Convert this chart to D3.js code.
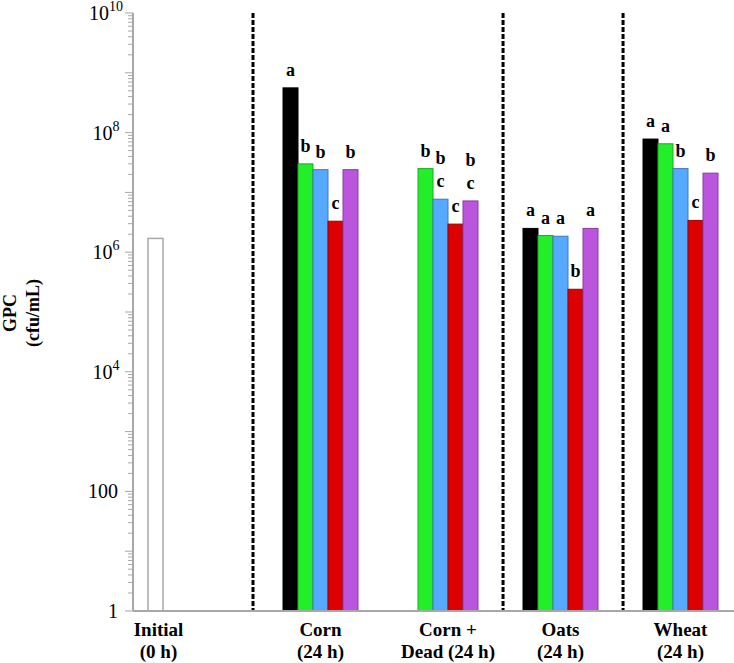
<!DOCTYPE html>
<html>
<head>
<meta charset="utf-8">
<script src="https://cdn.jsdelivr.net/npm/d3@7"></script>
<style>
  html, body { margin: 0; padding: 0; background: #fff; }
  svg { display: block; }
  text { font-family: "Liberation Serif", "Times New Roman", serif; }
</style>
</head>
<body>
<svg id="chart" width="734" height="663"></svg>
<script>
// ---------- data ----------
const categories = ["Initial (0 h)", "Corn (24 h)", "Corn + Dead (24 h)", "Oats (24 h)", "Wheat (24 h)"];
const categoryLines = [["Initial", "(0 h)"], ["Corn", "(24 h)"], ["Corn +", "Dead (24 h)"], ["Oats", "(24 h)"], ["Wheat", "(24 h)"]];
const initialValue = [1.7e6];
// treatment groups (Corn, Corn + Dead, Oats, Wheat)
const series = ["Series 1", "Series 2", "Series 3", "Series 4", "Series 5"];
const valuesS1 = [5.6e8, null, 2.5e6, 7.8e7];
const valuesS2 = [3.0e7, 2.5e7, 1.9e6, 6.5e7];
const valuesS3 = [2.4e7, 7.7e6, 1.85e6, 2.5e7];
const valuesS4 = [3.3e6, 2.95e6, 2.4e5, 3.4e6];
const valuesS5 = [2.4e7, 7.2e6, 2.5e6, 2.1e7];
const lettersS1 = [["a"], [], ["a"], ["a"]];
const lettersS2 = [["b"], ["b"], ["a"], ["a"]];
const lettersS3 = [["b"], ["b", "c"], ["a"], ["b"]];
const lettersS4 = [["c"], ["c"], ["b"], ["c"]];
const lettersS5 = [["b"], ["b", "c"], ["a"], ["b"]];
const yTickValues = [1, 100, 1e4, 1e6, 1e8, 1e10];
const yTitle = ["GPC", "(cfu/mL)"];

// ---------- layout ----------
const svg = d3.select("#chart");
const colors = ["#000000", "#22ee2a", "#55aaff", "#dd0000", "#bb55dd"];
const axisColor = "#a8a8a8";
const x0 = 133, yBottom = 611, yTop = 13;

const y = d3.scaleLog().domain([1, 1e10]).range([yBottom, yTop]);
// slot scale: one unit = one bar width
const x = d3.scaleLinear().domain([0, 1]).range([x0, x0 + 15]);
const groupStart = [1, 10, 18, 26, 34];
const dividerUnits = [8, 24.67, 32.67];

// dividers
svg.selectAll("line.divider").data(dividerUnits).join("line")
  .attr("x1", d => x(d)).attr("x2", d => x(d))
  .attr("y1", yTop).attr("y2", yBottom)
  .attr("stroke", "#000").attr("stroke-width", 3)
  .attr("stroke-dasharray", "5,2");

// initial bar
svg.selectAll("rect.initial").data(initialValue).join("rect")
  .attr("x", x(groupStart[0])).attr("width", x(1) - x(0))
  .attr("y", d => y(d)).attr("height", d => yBottom - y(d))
  .attr("fill", "#fff").attr("stroke", axisColor).attr("stroke-width", 1.5);

// treatment bars
const allValues = [valuesS1, valuesS2, valuesS3, valuesS4, valuesS5];
const allLetters = [lettersS1, lettersS2, lettersS3, lettersS4, lettersS5];
const barData = [];
allValues.forEach((vals, s) => {
  vals.forEach((v, g) => {
    if (v == null) return;
    barData.push({ s, g, v, letters: allLetters[s][g] });
  });
});

svg.selectAll("rect.bar").data(barData).join("rect")
  .attr("class", "bar")
  .attr("x", d => x(groupStart[d.g + 1] + d.s))
  .attr("width", x(1) - x(0))
  .attr("y", d => y(d.v))
  .attr("height", d => yBottom - y(d.v))
  .attr("fill", d => colors[d.s])
  .attr("stroke", d => d.s === 0 ? "#000" : d3.color(colors[d.s]).darker(0.9))
  .attr("stroke-width", 1);

// significance letters
barData.forEach(d => {
  const cx = x(groupStart[d.g + 1] + d.s + 0.5);
  const n = d.letters.length;
  d.letters.forEach((l, i) => {
    svg.append("text")
      .attr("x", cx)
      .attr("y", y(d.v) - 12 - (n - 1 - i) * 23)
      .attr("text-anchor", "middle")
      .attr("font-weight", "bold")
      .attr("font-size", 18)
      .attr("fill", "#000")
      .text(l);
  });
});

// axes lines
svg.append("line").attr("x1", x0).attr("x2", 734).attr("y1", yBottom).attr("y2", yBottom)
  .attr("stroke", axisColor).attr("stroke-width", 2);
svg.append("line").attr("x1", x0).attr("x2", x0).attr("y1", yTop).attr("y2", yBottom)
  .attr("stroke", axisColor).attr("stroke-width", 2);

// minor ticks
const minor = [];
for (let k = 0; k < 10; k++) for (let m = 2; m <= 9; m++) minor.push(m * Math.pow(10, k));
svg.selectAll("line.minor").data(minor).join("line")
  .attr("x1", x0 - 5).attr("x2", x0)
  .attr("y1", d => y(d)).attr("y2", d => y(d))
  .attr("stroke", axisColor).attr("stroke-width", 1);
const major = d3.range(0, 11).map(k => Math.pow(10, k));
svg.selectAll("line.major").data(major).join("line")
  .attr("x1", x0 - 8).attr("x2", x0)
  .attr("y1", d => y(d)).attr("y2", d => y(d))
  .attr("stroke", axisColor).attr("stroke-width", 1);

// y tick labels
yTickValues.forEach(v => {
  const exp = Math.round(Math.log10(v));
  const t = svg.append("text")
    .attr("y", y(v) + 7)
    .attr("font-size", 20)
    .attr("fill", "#000");
  if (exp <= 2) {
    t.attr("x", 118).attr("text-anchor", "end").text(String(v));
  } else {
    t.attr("x", 106).attr("text-anchor", "middle");
    t.append("tspan").text("10");
    t.append("tspan").attr("font-size", 14).attr("dy", -9).text(String(exp));
  }
});

// y title (rotated)
yTitle.forEach((line, i) => {
  svg.append("text")
    .attr("transform", `translate(${16 + i * 23},${(yTop + yBottom) / 2 + 1}) rotate(-90)`)
    .attr("text-anchor", "middle")
    .attr("font-weight", "bold")
    .attr("font-size", 18)
    .attr("fill", "#000")
    .text(line);
});

// category labels (centred on visible bars)
categoryLines.forEach((lines, c) => {
  let lo, hi;
  if (c === 0) { lo = groupStart[0]; hi = groupStart[0] + 1; }
  else {
    const present = allValues.map((vals, s) => vals[c - 1] != null ? s : null).filter(s => s != null);
    lo = groupStart[c] + d3.min(present);
    hi = groupStart[c] + d3.max(present) + 1;
  }
  const cx = (x(lo) + x(hi)) / 2 + (c === 0 ? 3 : 0);
  lines.forEach((ln, i) => {
    svg.append("text")
      .attr("x", cx).attr("y", 636 + i * 22)
      .attr("text-anchor", "middle")
      .attr("font-weight", "bold")
      .attr("font-size", 19)
      .attr("fill", "#000")
      .text(ln);
  });
});
</script>
</body>
</html>
